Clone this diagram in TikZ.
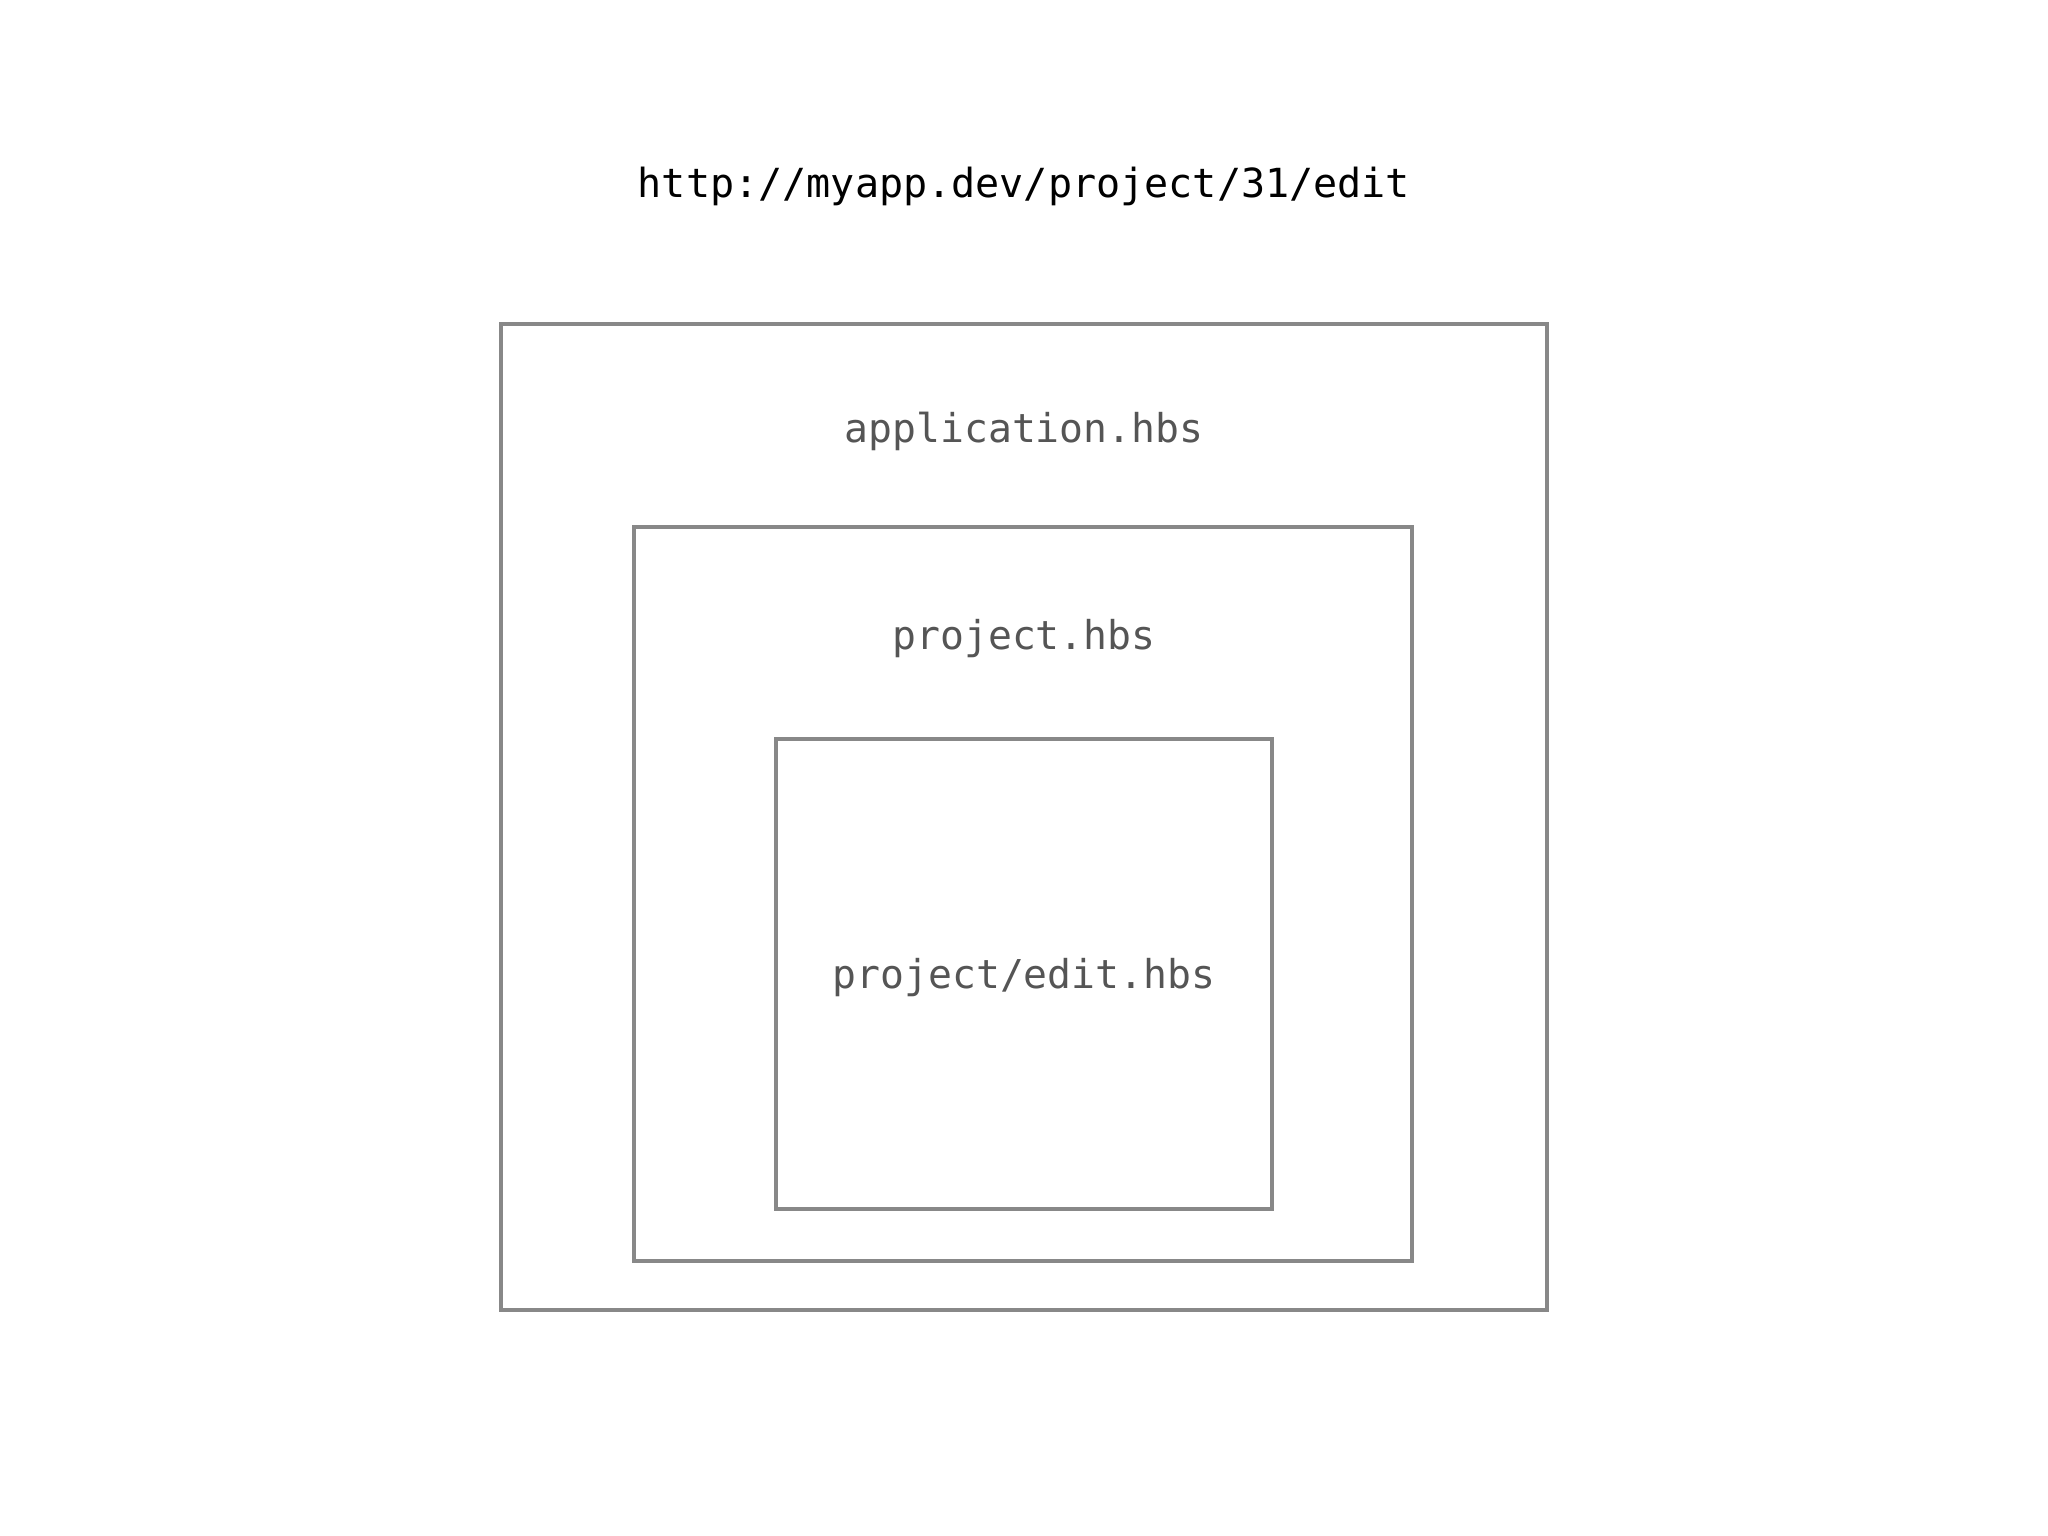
\documentclass[tikz,border=0pt]{standalone}
\usepackage{fontspec}
\usepackage{xcolor}
\newfontfamily\codefont{DejaVu Sans Mono}
\definecolor{boxgray}{HTML}{888888}
\definecolor{labelgray}{HTML}{555555}

\begin{document}
\begin{tikzpicture}[x=0.01cm, y=-0.01cm,
        tmpl/.style={draw=boxgray, line width=1.15pt, rectangle, inner sep=0pt},
        tmplname/.style={font=\codefont\fontsize{11.3}{13}\selectfont, text=labelgray}]
        \useasboundingbox (0, 0) rectangle (2048, 1536);

        \node[font=\codefont\fontsize{11.4}{14}\selectfont] (url) at (1024, 186) {http://myapp.dev/project/31/edit};

        \node[tmpl, minimum width=10.45cm, minimum height=9.86cm] (app) at (1024, 817) {};
        \node[tmpl, minimum width=7.77cm, minimum height=7.33cm] (proj) at (1023, 894) {};
        \node[tmpl, minimum width=4.96cm, minimum height=4.69cm] (edit) at (1024, 974) {};

        \node[tmplname] (applabel) at (1024, 431) {application.hbs};
        \node[tmplname] (projlabel) at (1024, 639) {project.hbs};
        \node[tmplname] (editlabel) at (1024, 978) {project/edit.hbs};
    \end{tikzpicture}
\end{document}
